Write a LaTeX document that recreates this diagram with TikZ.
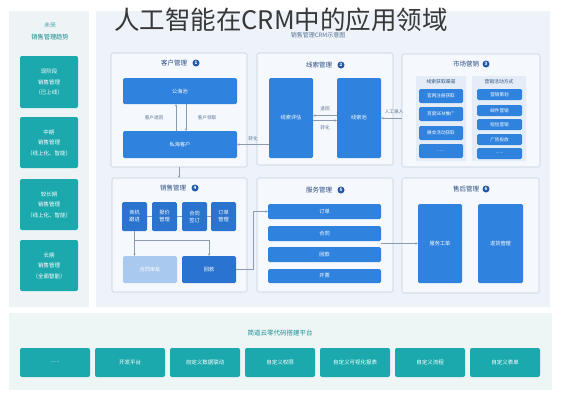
\documentclass[tikz,border=0pt]{standalone}
\usepackage{fontspec}
\setmainfont{Noto Sans CJK SC}
\usetikzlibrary{arrows.meta}
\definecolor{tealc}{HTML}{1CA9AD}
\definecolor{bluec}{HTML}{2F82DE}
\definecolor{blued}{HTML}{2A74CF}
\definecolor{bluel}{HTML}{A9C9EE}
\definecolor{mainbg}{HTML}{EDF3F9}
\definecolor{subbg}{HTML}{F5F8FC}
\definecolor{bordc}{HTML}{C3CEDB}
\definecolor{leftbg}{HTML}{EEF4F6}
\definecolor{botbg}{HTML}{EEF5F5}
\definecolor{colbg}{HTML}{E4EDF7}
\definecolor{titlec}{HTML}{2B4D80}
\definecolor{lblc}{HTML}{5A7394}
\definecolor{connc}{HTML}{8C9BB0}
\definecolor{numc}{HTML}{2458A8}
\definecolor{lefttxt}{HTML}{4FA7B0}
\tikzset{
  nw/.style={anchor=north west, inner sep=0pt, outer sep=0pt},
  panelbox/.style={nw, fill=#1},
  subpanel/.style={nw, draw=bordc, fill=subbg, line width=0.6pt, rounded corners=1.5pt},
  tealbox/.style={nw, fill=tealc, rounded corners=2pt, text=white, align=center, font=\fontsize{5.5}{10.5}\selectfont},
  bluebox/.style={nw, fill=bluec, rounded corners=1.5pt, text=white, align=center, font=\fontsize{5.2}{7}\selectfont},
  darkbox/.style={bluebox, fill=blued},
  colbox/.style={nw, fill=colbg, rounded corners=1pt},
  ptitle/.style={inner sep=0pt, text=titlec, font=\fontsize{6.5}{7}\selectfont},
  numc/.style={circle, fill=numc, text=white, inner sep=0pt, minimum size=7pt, font=\fontsize{4.5}{5}\selectfont\bfseries},
  lbl/.style={inner sep=0pt, text=lblc, font=\fontsize{4.6}{5}\selectfont},
  colhead/.style={inner sep=0pt, text=titlec, font=\fontsize{4.8}{5}\selectfont},
  conn/.style={draw=connc, line width=0.5pt, -{Stealth[length=2.6pt,width=2.4pt]}},
  connline/.style={draw=connc, line width=0.5pt},
}
\begin{document}
\begin{tikzpicture}[x=1pt,y=-1pt]
\useasboundingbox (0,0) rectangle (561,400);
\fill[white] (0,0) rectangle (561,400);

% ---------- big panels ----------
\node[panelbox=leftbg, minimum width=80, minimum height=296] (lp) at (9,11) {};
\node[panelbox=mainbg, minimum width=454, minimum height=296] (mp) at (96,11) {};
\node[panelbox=botbg, minimum width=543, minimum height=77] (bp) at (9,313) {};

% ---------- left column ----------
\node[inner sep=0pt, text=lefttxt, font=\fontsize{6}{7}\selectfont] (lt1) at (50,25) {未来};
\node[inner sep=0pt, text=tealc!80!black, font=\fontsize{6.2}{7}\selectfont] (lt2) at (50,37) {销售管理趋势};
\node[tealbox, minimum width=58, minimum height=52] (l1) at (20,56) {现阶段\\销售管理\\（已上线）};
\node[tealbox, minimum width=58, minimum height=51] (l2) at (20,117) {中期\\销售管理\\（线上化、智能）};
\node[tealbox, minimum width=58, minimum height=51] (l3) at (20,179) {较长期\\销售管理\\（线上化、智能）};
\node[tealbox, minimum width=58, minimum height=51] (l4) at (20,240) {长期\\销售管理\\（全面智能）};

% ---------- titles ----------
\node[inner sep=0pt, text=black!78, font=\fontsize{25.5}{27}\selectfont] (title) at (281,20) {人工智能在CRM中的应用领域};
\node[inner sep=0pt, text=lblc, font=\fontsize{6}{7}\selectfont] (mt) at (318,35) {销售管理CRM示意图};

% ---------- panel 1 ----------
\node[subpanel, minimum width=136, minimum height=114] (p1) at (111,53) {};
\node[ptitle] (t1) at (174,63) {客户管理};
\node[numc] (n1) at (196,63) {1};
\node[bluebox, minimum width=114, minimum height=26] (a1) at (123,78) {公海池};
\node[bluebox, minimum width=114, minimum height=27] (a2) at (123,131) {私海客户};
\draw[conn] ([xshift=-4pt]a2.north) -- ([xshift=-4pt]a1.south);
\draw[conn] ([xshift=6pt]a1.south) -- ([xshift=6pt]a2.north);
\node[lbl] (la1) at (154,118) {客户退回};
\node[lbl] (la2) at (207,118) {客户领取};

% ---------- panel 2 ----------
\node[subpanel, minimum width=136, minimum height=112] (p2) at (257,53) {};
\node[ptitle] (t2) at (319,65) {线索管理};
\node[numc] (n2) at (341,65) {2};
\node[bluebox, minimum width=44, minimum height=80] (b1) at (269,78) {线索评估};
\node[bluebox, minimum width=44, minimum height=80] (b2) at (337,78) {线索池};
\draw[conn] ([yshift=2.5pt]b2.west) -- ([yshift=2.5pt]b1.east);
\draw[conn] ([yshift=-2.5pt]b1.east) -- ([yshift=-2.5pt]b2.west);
\node[lbl] (lb1) at (325,109) {退回};
\node[lbl] (lb2) at (325,128) {转化};
\draw[conn] (b1.west |- a2.east) -- (a2.east);
\node[lbl] (lb3) at (253,139) {转化};

% ---------- panel 3 ----------
\node[subpanel, minimum width=138, minimum height=113] (p3) at (402,54) {};
\node[ptitle] (t3) at (466,64) {市场营销};
\node[numc] (n3) at (486,64) {3};
\node[colbox, minimum width=50, minimum height=85] (k1) at (416,76) {};
\node[colbox, minimum width=54, minimum height=85] (k2) at (472,76) {};
\node[colhead] (h1) at (441,82) {线索获取渠道};
\node[colhead] (h2) at (499,82) {营销活动方式};
\node[bluebox, minimum width=44, minimum height=14, font=\fontsize{4.6}{5}\selectfont] (c11) at (419,89) {官网注册获取};
\node[bluebox, minimum width=44, minimum height=14, font=\fontsize{4.6}{5}\selectfont] (c12) at (419,107) {百度SEM推广};
\node[bluebox, minimum width=44, minimum height=14, font=\fontsize{4.6}{5}\selectfont] (c13) at (419,126) {展会活动获取};
\node[bluebox, minimum width=44, minimum height=14, font=\fontsize{4.6}{5}\selectfont] (c14) at (419,144) {......};
\node[bluebox, minimum width=45, minimum height=11, font=\fontsize{4.6}{5}\selectfont] (c21) at (477,89) {营销策划};
\node[bluebox, minimum width=45, minimum height=11, font=\fontsize{4.6}{5}\selectfont] (c22) at (477,105) {邮件营销};
\node[bluebox, minimum width=45, minimum height=11, font=\fontsize{4.6}{5}\selectfont] (c23) at (477,119) {短信营销};
\node[bluebox, minimum width=45, minimum height=11, font=\fontsize{4.6}{5}\selectfont] (c24) at (477,134) {广告投放};
\node[bluebox, minimum width=45, minimum height=11, font=\fontsize{4.6}{5}\selectfont] (c25) at (477,148) {......};
\draw[conn] (p3.west |- b2.east) -- (b2.east);
\node[lbl] (lb4) at (394,112) {人工录入};

% ---------- panel 4 ----------
\node[subpanel, minimum width=135, minimum height=114] (p4) at (112,178) {};
\node[ptitle] (t4) at (173,188) {销售管理};
\node[numc] (n4) at (195,188) {4};
\node[darkbox, minimum width=25, minimum height=29] (d1) at (122,202) {商机\\跟进};
\node[darkbox, minimum width=25, minimum height=29] (d2) at (152,202) {报价\\管理};
\node[darkbox, minimum width=25, minimum height=29] (d3) at (182,202) {合同\\签订};
\node[darkbox, minimum width=25, minimum height=29] (d4) at (211,202) {订单\\管理};
\draw[connline] (d1) -- (d2);
\draw[connline] (d2) -- (d3);
\draw[connline] (d3) -- (d4);
\node[bluebox, fill=bluel, minimum width=54, minimum height=27] (e1) at (123,256) {合同审批};
\node[darkbox, minimum width=54, minimum height=27] (e2) at (182,256) {回款};
\draw[connline] (d1.south) -- ++(0,9) coordinate (br1) -- (br1 -| e2.north) coordinate (br2);
\draw[conn] (br1) -- (br1 |- e1.north);
\draw[conn] (br2) -- (e2.north);
\draw[conn] (p1.south) -- (p1.south |- p4.north);

% ---------- panel 5 ----------
\node[subpanel, minimum width=136, minimum height=114] (p5) at (257,178) {};
\node[ptitle] (t5) at (319,190) {服务管理};
\node[numc] (n5) at (341,190) {5};
\node[bluebox, minimum width=113, minimum height=15] (f1) at (268,204) {订单};
\node[bluebox, minimum width=113, minimum height=15] (f2) at (268,226) {合同};
\node[bluebox, minimum width=113, minimum height=15] (f3) at (268,247) {回款};
\node[bluebox, minimum width=113, minimum height=14] (f4) at (268,269) {开票};
\draw[conn] (e2.east) -- ++(17,0) |- (f1.west);

% ---------- panel 6 ----------
\node[subpanel, minimum width=137, minimum height=115] (p6) at (402,178) {};
\node[ptitle] (t6) at (466,189) {售后管理};
\node[numc] (n6) at (486,189) {6};
\node[bluebox, minimum width=44, minimum height=79] (g1) at (418,204) {服务工单};
\node[bluebox, minimum width=45, minimum height=79] (g2) at (478,204) {退货管理};
\draw[conn] (f2.east |- g1.west) -- (g1.west);

% ---------- bottom ----------
\node[inner sep=0pt, text=tealc!85!black, font=\fontsize{6.5}{7}\selectfont] (bt) at (280,333) {简道云零代码搭建平台};
\node[tealbox, minimum width=70, minimum height=29] (m1) at (20,348) {......};
\node[tealbox, minimum width=70, minimum height=29] (m2) at (95,348) {开发平台};
\node[tealbox, minimum width=70, minimum height=29] (m3) at (170,348) {自定义数据联动};
\node[tealbox, minimum width=70, minimum height=29] (m4) at (245,348) {自定义权限};
\node[tealbox, minimum width=70, minimum height=29] (m5) at (320,348) {自定义可视化报表};
\node[tealbox, minimum width=70, minimum height=29] (m6) at (395,348) {自定义流程};
\node[tealbox, minimum width=70, minimum height=29] (m7) at (470,348) {自定义表单};
\end{tikzpicture}
\end{document}
